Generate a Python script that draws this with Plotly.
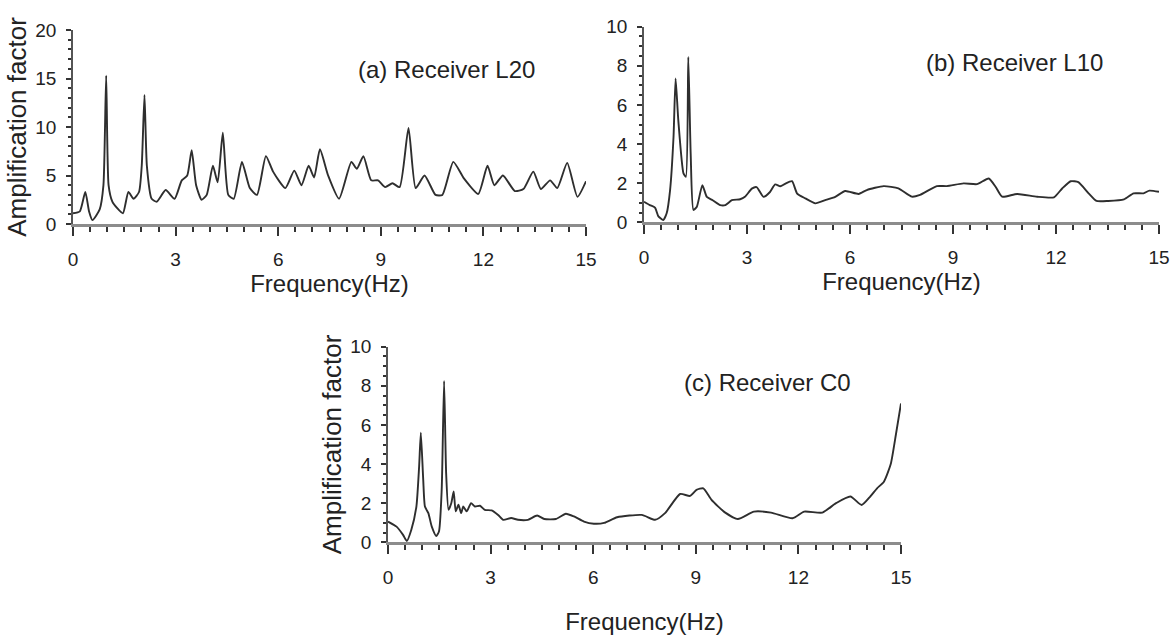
import plotly.graph_objects as go

# ---------------- data ----------------
a_freq = [0, 0.2, 0.36, 0.47, 0.57, 0.78, 0.89, 0.97, 1.04, 1.15,
          1.3, 1.46, 1.62, 1.77, 1.93, 2.01, 2.09, 2.16, 2.3, 2.45,
          2.71, 2.97, 3.18, 3.34, 3.47, 3.6, 3.76, 3.91, 4.09, 4.23,
          4.38, 4.54, 4.7, 4.94, 5.17, 5.38, 5.64, 5.85, 6.21, 6.47,
          6.68, 6.89, 7.05, 7.22, 7.46, 7.78, 8.14, 8.3, 8.49, 8.72,
          8.92, 9.13, 9.34, 9.55, 9.81, 10.02, 10.28, 10.6, 10.8, 11.12,
          11.43, 11.85, 12.12, 12.32, 12.57, 12.92, 13.17, 13.46, 13.68, 13.95,
          14.16, 14.45, 14.75, 15]
a_amp = [1.1, 1.3, 3.3, 1.3, 0.4, 1.5, 4.0, 15.3, 4.0, 2.3,
         1.6, 1.1, 3.3, 2.6, 3.3, 6.0, 13.3, 6.0, 2.6, 2.3,
         3.5, 2.6, 4.5, 5.0, 7.6, 4.0, 2.5, 3.0, 6.0, 4.3,
         9.4, 3.0, 2.6, 6.4, 3.7, 3.0, 7.0, 5.4, 3.7, 5.5,
         4.0, 6.0, 4.8, 7.7, 5.0, 2.6, 6.4, 5.7, 7.0, 4.5,
         4.5, 3.8, 4.2, 3.8, 9.9, 3.7, 5.0, 3.0, 3.0, 6.4,
         4.7, 3.1, 6.0, 4.0, 5.0, 3.4, 3.6, 5.4, 3.6, 4.5,
         3.7, 6.3, 2.8, 4.4]

b_freq = [0, 0.17, 0.32, 0.42, 0.56, 0.66, 0.76, 0.86, 0.92, 1.0,
          1.15, 1.22, 1.29, 1.36, 1.44, 1.54, 1.7, 1.83, 2.0, 2.22,
          2.37, 2.56, 2.8, 2.94, 3.14, 3.28, 3.48, 3.67, 3.82, 3.97,
          4.11, 4.31, 4.46, 4.7, 4.99, 5.28, 5.57, 5.86, 6.25, 6.49,
          6.98, 7.41, 7.8, 8.04, 8.53, 8.82, 9.31, 9.7, 10.04, 10.24,
          10.43, 10.87, 11.45, 11.94, 12.18, 12.43, 12.65, 12.95, 13.18, 13.52,
          13.98, 14.26, 14.55, 14.72, 15]
b_amp = [1.05, 0.88, 0.75, 0.3, 0.12, 0.46, 1.65, 4.37, 7.35, 5.2,
         2.5, 2.33, 8.45, 3.5, 0.63, 0.8, 1.9, 1.3, 1.13, 0.88,
         0.88, 1.13, 1.18, 1.3, 1.72, 1.8, 1.3, 1.55, 1.94, 1.84,
         1.97, 2.1, 1.47, 1.22, 0.97, 1.13, 1.3, 1.6, 1.45, 1.65,
         1.85, 1.73, 1.31, 1.4, 1.85, 1.85, 1.99, 1.95, 2.24, 1.82,
         1.31, 1.45, 1.31, 1.28, 1.73, 2.1, 2.05, 1.48, 1.09, 1.09,
         1.17, 1.48, 1.48, 1.62, 1.56]

c_freq = [0, 0.25, 0.44, 0.55, 0.68, 0.83, 0.91, 0.96, 1.03, 1.08,
          1.18, 1.28, 1.41, 1.49, 1.57, 1.64, 1.7, 1.77, 1.85, 1.92,
          1.98, 2.06, 2.14, 2.2, 2.3, 2.43, 2.54, 2.69, 2.83, 3.03,
          3.22, 3.37, 3.6, 3.8, 4.09, 4.36, 4.57, 4.91, 5.2, 5.44,
          5.73, 6.02, 6.32, 6.7, 7.42, 7.81, 8.1, 8.54, 8.83, 9.02,
          9.22, 9.46, 9.85, 10.23, 10.7, 11.2, 11.83, 12.17, 12.7, 13.1,
          13.52, 13.85, 14.1, 14.3, 14.5, 14.7, 14.85, 15]
c_amp = [1.06, 0.8, 0.38, 0.07, 0.63, 1.83, 3.87, 5.6, 3.19, 1.83,
         1.49, 0.8, 0.32, 0.55, 2.68, 8.25, 3.53, 1.66, 2.0, 2.6,
         1.58, 1.92, 1.49, 1.83, 1.58, 2.0, 1.83, 1.87, 1.66, 1.63,
         1.4, 1.15, 1.24, 1.15, 1.15, 1.37, 1.19, 1.19, 1.46, 1.32,
         1.06, 0.95, 0.99, 1.28, 1.4, 1.15, 1.49, 2.47, 2.37, 2.68,
         2.76, 2.17, 1.53, 1.19, 1.57, 1.52, 1.23, 1.57, 1.52, 2.0,
         2.34, 1.91, 2.34, 2.76, 3.1, 4.0, 5.5, 7.1]

panel_labels = ["(a) Receiver L20", "(b) Receiver L10", "(c) Receiver C0"]
x_title = "Frequency(Hz)"
y_title = "Amplification factor"

x_major = [0, 3, 6, 9, 12, 15]
ya_major = [0, 5, 10, 15, 20]
yb_major = [0, 2, 4, 6, 8, 10]

# ---------------- styling ----------------
FONT = "Liberation Sans, Arial, sans-serif"
TXT = "#222222"
LINE = "#2e2e2e"
TICKC = "#333333"

W, H = 1171, 641
ML, MR, MT, MB = 10, 8, 8, 8
WI, HI = W - ML - MR, H - MT - MB


def px_x(p):
    return (p - ML) / WI


def px_y(p):
    return 1 - (p - MT) / HI


fig = go.Figure()
for fx, fy, xa, ya in [(a_freq, a_amp, "x", "y"), (b_freq, b_amp, "x2", "y2"),
                       (c_freq, c_amp, "x3", "y3")]:
    fig.add_trace(go.Scatter(x=fx, y=fy, mode="lines", xaxis=xa, yaxis=ya,
                             line=dict(color=LINE, width=1.9, shape="spline", smoothing=0.55),
                             showlegend=False, hoverinfo="skip"))


def xax(domain, anchor, standoff):
    return dict(domain=domain, anchor=anchor, range=[0, 15],
                tickmode="array", tickvals=x_major,
                ticks="outside", ticklen=9, tickwidth=2, tickcolor=TICKC,
                minor=dict(tickmode="linear", tick0=0, dtick=0.5, ticks="outside",
                           ticklen=5, tickwidth=2, tickcolor=TICKC),
                showline=True, linewidth=3, linecolor="#8c8c8c",
                showgrid=False, zeroline=False, ticklabelstandoff=7,
                tickfont=dict(family=FONT, size=19, color=TXT),
                title=dict(text=x_title, standoff=standoff,
                           font=dict(family=FONT, size=24, color=TXT)),
                automargin=False)


def yax(domain, anchor, rng, tv, mdt, title):
    d = dict(domain=domain, anchor=anchor, range=rng,
             tickmode="array", tickvals=tv,
             ticks="outside", ticklen=5, tickwidth=2, tickcolor=TICKC,
             minor=dict(tickmode="linear", tick0=0, dtick=mdt, ticks="outside",
                        ticklen=3, tickwidth=2, tickcolor=TICKC),
             showline=True, linewidth=1.6, linecolor="#555", showgrid=False,
             zeroline=False, ticklabelstandoff=6,
             tickfont=dict(family=FONT, size=19, color=TXT),
             automargin=False)
    if title:
        d["title"] = dict(text=y_title, standoff=1,
                          font=dict(family=FONT, size=26, color=TXT))
    return d


fig.update_layout(
    width=W, height=H,
    margin=dict(l=ML, r=MR, t=MT, b=MB),
    paper_bgcolor="white", plot_bgcolor="white",
    xaxis=xax([px_x(73), px_x(586)], "y", 3),
    yaxis=yax([px_y(224), px_y(30)], "x", [0, 20], ya_major, 1, True),
    xaxis2=xax([px_x(644), px_x(1159)], "y2", 3),
    yaxis2=yax([px_y(222.3), px_y(26.7)], "x2", [0, 10], yb_major, 0.5, False),
    xaxis3=xax([px_x(388), px_x(901)], "y3", 27),
    yaxis3=yax([px_y(542.3), px_y(346.7)], "x3", [0, 10], yb_major, 0.5, True),
)

ann_pos = [(446, 70), (1014, 62), (767, 382)]
for txt, (ax_, ay_) in zip(panel_labels, ann_pos):
    fig.add_annotation(text=txt, x=px_x(ax_), y=px_y(ay_), xref="paper", yref="paper",
                       showarrow=False, xanchor="center", yanchor="middle",
                       font=dict(family=FONT, size=24, color=TXT))

fig.write_html("out.html")
